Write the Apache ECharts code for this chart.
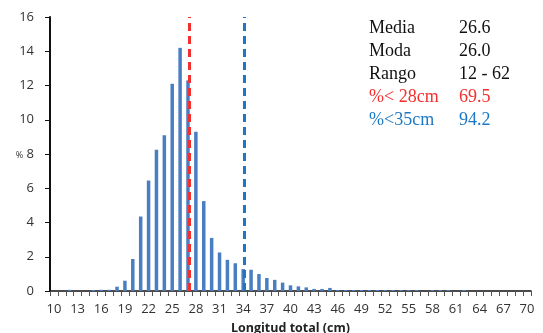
<!DOCTYPE html>
<html>
<head>
<meta charset="utf-8">
<script src="https://cdn.jsdelivr.net/npm/echarts@6/dist/echarts.min.js"></script>
<style>
  html, body { margin: 0; padding: 0; background: #fff; }
  #chart { width: 543px; height: 333px; }
</style>
</head>
<body>
<div id="chart"></div>
<script>
// Length classes (cm)
var categories = ['10','11','12','13','14','15','16','17','18','19',
  '20','21','22','23','24','25','26','27','28','29',
  '30','31','32','33','34','35','36','37','38','39',
  '40','41','42','43','44','45','46','47','48','49',
  '50','51','52','53','54','55','56','57','58','59',
  '60','61','62','63','64','65','66','67','68','69','70'];

// Frequency (%) per length class
var percent = [0, 0, 0.07, 0, 0, 0.06, 0.07, 0.07, 0.25, 0.6,
  1.87, 4.35, 6.45, 8.25, 9.1, 12.1, 14.2, 12.3, 9.3, 5.25,
  3.1, 2.25, 1.82, 1.62, 1.28, 1.24, 0.99, 0.76, 0.65, 0.49,
  0.33, 0.27, 0.21, 0.12, 0.12, 0.18, 0.06, 0.06, 0.06, 0.06,
  0.06, 0.06, 0.06, 0.06, 0.06, 0.06, 0.06, 0, 0.06, 0.06,
  0.06, 0, 0.06, 0, 0, 0, 0, 0, 0, 0, 0];

// Reference lengths drawn as dashed vertical lines
var refLines = [27.2, 34.15];
var refColors = ['#F2302E', '#1C78C4'];

// Summary statistics
var statNames = ['Media', 'Moda', 'Rango', '%< 28cm', '%<35cm'];
var statValues = ['26.6', '26.0', '12 - 62', '69.5', '94.2'];
var statColors = ['#111', '#111', '#111', '#F2302E', '#1C78C4'];

var chart = echarts.init(document.getElementById('chart'), null, { renderer: 'canvas' });

var graphics = [];
for (var i = 0; i < statNames.length; i++) {
  graphics.push({
    type: 'text', x: 369, y: 28 + i * 23,
    style: { text: statNames[i], fill: statColors[i], font: '18px "Liberation Serif"', verticalAlign: 'middle' }
  });
  graphics.push({
    type: 'text', x: 459, y: 28 + i * 23,
    style: { text: statValues[i], fill: statColors[i], font: '18px "Liberation Serif"', verticalAlign: 'middle' }
  });
}

chart.setOption({
  animation: false,
  backgroundColor: '#fff',
  textStyle: { fontFamily: 'Open Sans' },
  grid: { left: 50, right: 12, top: 17, bottom: 42, outerBoundsMode: 'none' },
  xAxis: [{
    type: 'category',
    data: categories,
    boundaryGap: true,
    name: 'Longitud total (cm)',
    nameLocation: 'middle',
    nameGap: 31,
    nameTextStyle: { fontFamily: 'Open Sans', fontWeight: 'bold', fontSize: 12.5, color: '#222' },
    axisLine: { lineStyle: { color: '#111', width: 1.5 } },
    axisTick: { show: true, interval: 0, length: 5, lineStyle: { color: '#555' } },
    axisLabel: { interval: 2, fontSize: 13, color: '#333', margin: 12 }
  }, {
    type: 'value', min: 9.5, max: 70.5, show: false
  }],
  yAxis: {
    type: 'value',
    min: 0, max: 16, interval: 2,
    splitLine: { show: false },
    axisLine: { show: true, lineStyle: { color: '#111', width: 2 } },
    axisTick: { show: true, length: 5, lineStyle: { color: '#111' } },
    axisLabel: {
      fontSize: 13, color: '#333', margin: 16,
      formatter: function (v) { return v === 8 ? '{p|%} 8' : String(v); },
      rich: { p: { fontSize: 9, color: '#333', fontFamily: 'Open Sans', padding: [3, 0, 0, 0] } }
    }
  },
  series: [{
    type: 'bar',
    data: percent,
    barWidth: 3.5,
    itemStyle: { color: '#4A7EC2' }
  }, {
    type: 'scatter',
    xAxisIndex: 1,
    data: [],
    silent: true,
    markLine: {
      symbol: 'none',
      silent: true,
      label: { show: false },
      data: refLines.map(function (x, k) {
        return { xAxis: x, lineStyle: { color: refColors[k], type: [8, 5], width: 3 } };
      })
    }
  }],
  graphic: graphics
});
</script>
</body>
</html>
